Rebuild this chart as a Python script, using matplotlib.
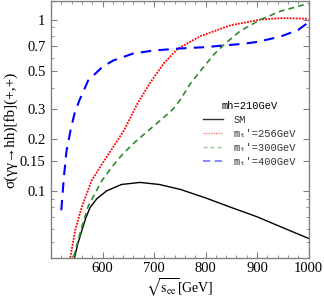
import matplotlib
matplotlib.use("Agg")
import matplotlib.pyplot as plt
from matplotlib.ticker import FixedLocator, NullFormatter, MultipleLocator
from matplotlib.lines import Line2D

# ---- data ----
sm_x = [543, 545, 552, 560, 568, 576, 589, 608, 637, 673, 710, 751, 800, 850, 900, 950, 1000]
sm_y = [0.037, 0.040, 0.049, 0.059, 0.070, 0.080, 0.090, 0.100, 0.109, 0.112, 0.109, 0.102, 0.091, 0.080, 0.0706, 0.061, 0.0528]

t256_x = [535, 537, 547, 560, 579, 600, 618, 642, 667, 693, 720, 747, 790, 848, 907, 950, 1000]
t256_y = [0.036, 0.040, 0.059, 0.081, 0.115, 0.145, 0.175, 0.226, 0.320, 0.430, 0.560, 0.678, 0.800, 0.925, 1.00, 1.02, 1.01]

t300_x = [541, 543, 558, 572, 599, 620, 640, 665, 693, 715, 737, 751, 770, 790, 815, 835, 868, 907, 946, 1000]
t300_y = [0.036, 0.040, 0.059, 0.081, 0.115, 0.140, 0.165, 0.195, 0.230, 0.262, 0.300, 0.340, 0.420, 0.500, 0.620, 0.710, 0.860, 1.00, 1.12, 1.24]

t400_x = [520, 525, 530, 538, 546, 555, 572, 600, 621, 660, 700, 751, 800, 835, 870, 900, 946, 980, 1000]
t400_y = [0.077, 0.120, 0.170, 0.226, 0.285, 0.337, 0.440, 0.530, 0.577, 0.634, 0.660, 0.678, 0.690, 0.706, 0.720, 0.740, 0.796, 0.870, 0.964]

ytick_vals = [0.1, 0.15, 0.2, 0.3, 0.5, 0.7, 1]
ytick_labels = ["0.1", "0.15", "0.2", "0.3", "0.5", "0.7", "1"]
xtick_vals = [600, 700, 800, 900, 1000]

legend_title = "mh=210GeV"
labels = ["SM", "m\u209c'=256GeV", "m\u209c'=300GeV", "m\u209c'=400GeV"]

# ---- style ----
plt.rcParams['font.family'] = ['Liberation Serif', 'DejaVu Serif']
plt.rcParams['mathtext.fontset'] = 'stix'

fig = plt.figure(figsize=(3.24, 3.0), dpi=100)
ax = fig.add_axes([51 / 324, 1 - 258.3 / 300, 257.5 / 324, 258.3 / 300 - 0.002])

ax.plot(sm_x, sm_y, color='black', lw=1.0, ls='-')
ax.plot(t256_x, t256_y, color='#ff0000', lw=1.3, ls=(0, (1.0, 0.7)))
ax.plot(t300_x, t300_y, color='#2e8b2e', lw=1.2, ls=(0, (3.5, 2.5)))
ax.plot(t400_x, t400_y, color='#0000ff', lw=1.5, ls=(0, (5, 3.5)))

ax.set_yscale('log')
ax.set_xlim(500, 1000)
ax.set_ylim(0.0404, 1.29)

ax.yaxis.set_major_locator(FixedLocator(ytick_vals))
ax.set_yticklabels(ytick_labels)
minors = [v * d for d in (0.01, 0.1, 1) for v in range(1, 10)]
minors = [m for m in minors if m not in (0.1, 0.2, 0.3, 0.5, 0.7, 1)]
ax.yaxis.set_minor_locator(FixedLocator(minors))
ax.yaxis.set_minor_formatter(NullFormatter())
ax.xaxis.set_major_locator(FixedLocator(xtick_vals))
ax.xaxis.set_minor_locator(MultipleLocator(20))

gray = '#808080'
for s in ax.spines.values():
    s.set_color(gray)
    s.set_linewidth(1.0)
ax.tick_params(which='both', direction='in', top=True, right=True, color=gray,
               labelsize=10.5, labelcolor='black')
ax.tick_params(which='major', length=4, width=0.8)
ax.tick_params(which='minor', length=2.2, width=0.6)
ax.tick_params(axis='x', pad=3)
ax.tick_params(axis='y', pad=4)

ax.set_ylabel("\u03c3(\u03b3\u03b3\u2192hh)[fb](+,+)", fontsize=11, labelpad=2)
ax.set_xlabel(r"$\sqrt{\mathrm{s}_{\mathrm{ee}}}$[GeV]", fontsize=10)
ax.xaxis.set_label_coords(0.5, -(299.3 - 258.3) / 258.3)
ax.xaxis.label.set_va('bottom')

handles = [
    Line2D([], [], color='black', lw=1.0, alpha=0.8),
    Line2D([], [], color='#ff0000', lw=1.0, ls=(0, (1, 0.8)), alpha=0.5),
    Line2D([], [], color='#2e8b2e', lw=1.0, ls=(0, (3, 2)), alpha=0.5),
    Line2D([], [], color='#0000ff', lw=1.3, ls=(0, (4, 2.5)), alpha=0.5),
]
leg = ax.legend(handles, labels, title=legend_title, loc='upper left',
                bbox_to_anchor=(203 / 324, 1 - 101 / 300), bbox_transform=fig.transFigure,
                frameon=False, borderpad=0, borderaxespad=0, handlelength=1.9,
                handletextpad=1.0, labelspacing=0.38,
                prop={'family': ['Liberation Mono', 'DejaVu Sans Mono'], 'size': 7.5})
leg.get_title().set_fontfamily(['Liberation Mono', 'DejaVu Sans Mono'])
leg.get_title().set_fontsize(7.5)
for t in leg.get_texts():
    t.set_color('#333333')

fig.savefig("out.png", dpi=100)
